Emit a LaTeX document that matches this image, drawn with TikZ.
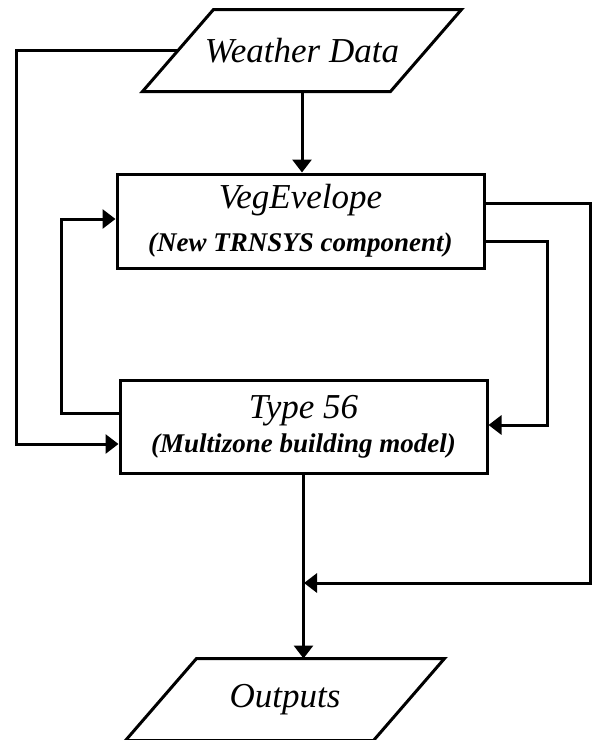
\documentclass[tikz,border=0pt]{standalone}
\usepackage{fontspec}
\setmainfont{Liberation Serif}
\usetikzlibrary{arrows.meta}
\begin{document}
\begin{tikzpicture}
          [x=1pt,y=-1pt,line width=3pt,
          blk/.style={draw, rectangle, inner sep=0pt, align=center},
          para/.style={rectangle, minimum width=245pt, minimum height=79pt, inner sep=0pt,
            font=\fontsize{35}{40}\selectfont\itshape},
          arr/.style={-{Triangle[length=13pt,width=19pt]}}]
        \useasboundingbox (0,0) rectangle (593,740);

        \node[para] (weather) at (302,50.5) {Weather Data};
        \node[blk, minimum width=367pt, minimum height=94pt, font=\fontsize{27}{43}\selectfont\bfseries\itshape]
          (veg) at (300.5,221) {{\mdseries\fontsize{35}{43}\selectfont VegEvelope}\\(New TRNSYS component)};
        \node[blk, minimum width=367pt, minimum height=93pt, font=\fontsize{27}{34}\selectfont\bfseries\itshape]
          (type) at (303.5,426.5) {{\mdseries\fontsize{35}{34}\selectfont Type 56}\\(Multizone building model)};
        \node[para] (outputs) at (285,699.5) {Outputs};

        % slanted frames of the data nodes
        \foreach \n in {weather, outputs}
          \draw[line join=miter] ([xshift=35.5pt]\n.north west) -- ([xshift=35.5pt]\n.north east)
            -- ([xshift=-35.5pt]\n.south east) -- ([xshift=-35.5pt]\n.south west) -- cycle;

        % connector ends and columns
        \coordinate (colL) at (16,0);
        \coordinate (colM) at (61,0);
        \coordinate (colR) at (547,0);
        \coordinate (colRR) at (590,0);
        \coordinate (typeinl) at ([yshift=-17.5pt]type.west);
        \coordinate (typeoutl) at ([yshift=13.5pt]type.west);
        \coordinate (veginl) at ([yshift=2pt]veg.west);
        \coordinate (vegoutr) at ([yshift=18pt]veg.east);
        \coordinate (vegoutrr) at ([yshift=-20pt]veg.east);
        \coordinate (typeinr) at ([yshift=1.5pt]type.east);
        \coordinate (join) at (304,583);

        \foreach \from/\to in {weather/veg, type/outputs}
          \draw[arr] (\from.south) -- (\from.south |- \to.north);

        \draw[arr] (weather.west) -- (weather.west -| colL) -- (colL |- typeinl) -- (typeinl);
        \draw[arr] (typeoutl) -- (typeoutl -| colM) -- (colM |- veginl) -- (veginl);
        \draw[arr] (vegoutrr) -- (vegoutrr -| colR) -- (colR |- typeinr) -- (typeinr);
        \draw[arr] (vegoutr) -- (vegoutr -| colRR) -- (colRR |- join) -- (join);
      \end{tikzpicture}
\end{document}
